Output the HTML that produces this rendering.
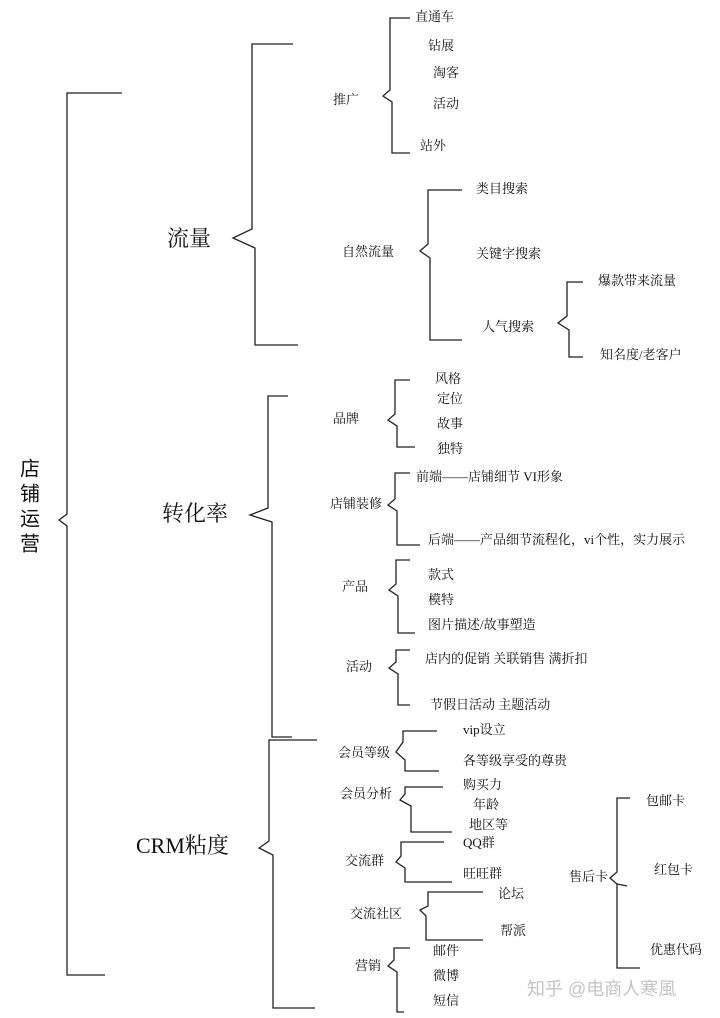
<!DOCTYPE html>
<html><head><meta charset="utf-8"><style>
html,body{margin:0;padding:0;background:#fff;}
svg{display:block;}
text{font-family:"Liberation Serif","Noto Serif CJK SC","Noto Sans CJK SC",serif;fill:#111;dominant-baseline:middle;}
.s{font-size:13px;}
.b{font-size:22px;}
</style></head><body>
<svg width="720" height="1018" viewBox="0 0 720 1018" xmlns="http://www.w3.org/2000/svg">
<g fill="none" stroke="#222" stroke-width="1.3">
<!-- x, top, bottom, mid -->
<path d="M122 93 H67 V514 L59 520 L67 526 V975 H105"/>
<path d="M293 44 H252 V229 L233 238 L255 248 V345 H298"/>
<path d="M410 18 H390 V90 L383 96 L392 102 V153 H410"/>
<path d="M462 190 H428 V244 L420 251 L430 258 V340 H462"/>
<path d="M583 282 H567 V316 L558 323 L569 330 V357 H583"/>
<path d="M288 396 H268 V508 L250 515 L272 522 V737 H292"/>
<path d="M410 380 H395 V414 L388 420 L397 426 V447 H415"/>
<path d="M410 473 H395 V499 L388 505 L397 511 V545 H420"/>
<path d="M410 560 H396 V584 L389 590 L398 596 V633 H415"/>
<path d="M410 650 H396 V662 L389 668 L398 674 V705 H410"/>
<path d="M317 740 H269 V841 L259 848 L273 855 V1008 H315"/>
<path d="M437 731 H403 V742 L396 752 L405 760 V771 H439"/>
<path d="M443 787 H405 V794 L400 800 L411 806 V832 H452"/>
<path d="M444 842 H401 V856 L396 862 L405 868 V882 H452"/>
<path d="M483 892 H428 V906 L420 910 L426 916 V940 H483"/>
<path d="M410 948 H394 V960 L388 966 L397 972 V1012 H404"/>
<path d="M630 798 H617 V872 L610 878 L617 884 L627 886 M617 884 V968 H640"/>
</g>
<text x="20" y="470" style="font-size:20px;font-family:'Liberation Sans','Noto Sans CJK SC',sans-serif">店</text>
<text x="20" y="495" style="font-size:20px;font-family:'Liberation Sans','Noto Sans CJK SC',sans-serif">铺</text>
<text x="20" y="520" style="font-size:20px;font-family:'Liberation Sans','Noto Sans CJK SC',sans-serif">运</text>
<text x="20" y="545" style="font-size:20px;font-family:'Liberation Sans','Noto Sans CJK SC',sans-serif">营</text>
<text class="b" x="167" y="241">流量</text>
<text class="b" x="162" y="516">转化率</text>
<text class="b" x="136" y="848">CRM粘度</text>
<text class="s" x="333" y="101">推广</text>
<text class="s" x="415" y="18">直通车</text>
<text class="s" x="428" y="47">钻展</text>
<text class="s" x="433" y="74">淘客</text>
<text class="s" x="433" y="105">活动</text>
<text class="s" x="420" y="147">站外</text>
<text class="s" x="342" y="253">自然流量</text>
<text class="s" x="476" y="190">类目搜索</text>
<text class="s" x="476" y="255">关键字搜索</text>
<text class="s" x="482" y="328">人气搜索</text>
<text class="s" x="598" y="282">爆款带来流量</text>
<text class="s" x="600" y="356">知名度/老客户</text>
<text class="s" x="333" y="420">品牌</text>
<text class="s" x="435" y="380">风格</text>
<text class="s" x="437" y="400">定位</text>
<text class="s" x="437" y="425">故事</text>
<text class="s" x="437" y="450">独特</text>
<text class="s" x="330" y="505">店铺装修</text>
<text class="s" x="416" y="478">前端——店铺细节 VI形象</text>
<text class="s" x="428" y="541">后端——产品细节流程化，vi个性，实力展示</text>
<text class="s" x="342" y="588">产品</text>
<text class="s" x="428" y="576">款式</text>
<text class="s" x="428" y="601">模特</text>
<text class="s" x="428" y="626">图片描述/故事塑造</text>
<text class="s" x="346" y="668">活动</text>
<text class="s" x="425" y="660">店内的促销 关联销售 满折扣</text>
<text class="s" x="430" y="706">节假日活动 主题活动</text>
<text class="s" x="338" y="754">会员等级</text>
<text class="s" x="463" y="731">vip设立</text>
<text class="s" x="463" y="762">各等级享受的尊贵</text>
<text class="s" x="340" y="795">会员分析</text>
<text class="s" x="463" y="786">购买力</text>
<text class="s" x="473" y="806">年龄</text>
<text class="s" x="469" y="826">地区等</text>
<text class="s" x="345" y="862">交流群</text>
<text class="s" x="463" y="844">QQ群</text>
<text class="s" x="463" y="875">旺旺群</text>
<text class="s" x="350" y="915">交流社区</text>
<text class="s" x="498" y="895">论坛</text>
<text class="s" x="500" y="932">帮派</text>
<text class="s" x="355" y="967">营销</text>
<text class="s" x="433" y="952">邮件</text>
<text class="s" x="433" y="977">微博</text>
<text class="s" x="433" y="1002">短信</text>
<text class="s" x="569" y="878">售后卡</text>
<text class="s" x="646" y="802">包邮卡</text>
<text class="s" x="654" y="871">红包卡</text>
<text class="s" x="650" y="951">优惠代码</text>
<text x="527" y="990" style="font-size:18px;fill:#c4c4c4;font-family:'Liberation Sans','Noto Sans CJK SC',sans-serif">知乎 @电商人寒風</text>
</svg>
</body></html>
